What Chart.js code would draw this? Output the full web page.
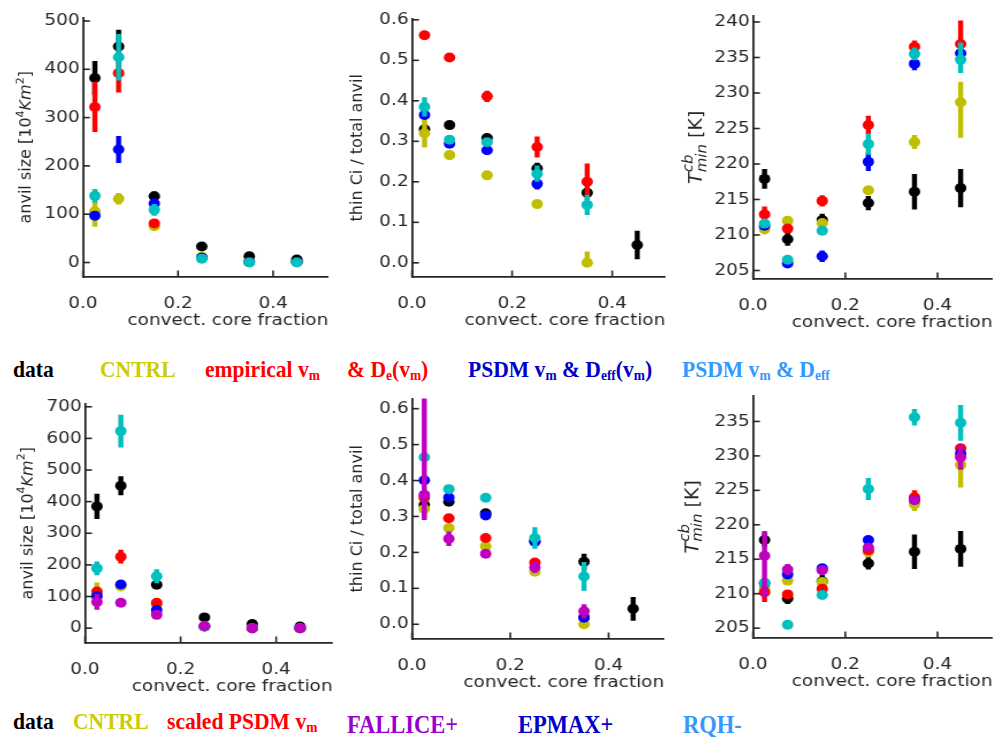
<!DOCTYPE html>
<html>
<head>
<meta charset="utf-8">
<script src="https://cdn.jsdelivr.net/npm/chart.js@4.4.1/dist/chart.umd.min.js"></script>
<style>
  body { margin: 0; background: #fff; width: 1003px; height: 737px; overflow: hidden; position: relative; }
  .panel { position: absolute; transform-origin: 0 0; }
  .leg { position: absolute; font-family: "Liberation Serif", "Times New Roman", serif; font-weight: bold; white-space: nowrap; line-height: 1; transform: scaleX(0.9); transform-origin: 0 0; }
  .leg sub { font-size: 0.62em; vertical-align: -0.2em; }
</style>
</head>
<body>
<div class="leg" style="left:13px;top:357px;font-size:24px;color:#000">data</div>
<div class="leg" style="left:100px;top:357px;font-size:24px;color:#cccc00">CNTRL</div>
<div class="leg" style="left:205px;top:357px;font-size:24px;color:#ff0000">empirical v<sub>m</sub></div>
<div class="leg" style="left:347px;top:357px;font-size:24px;color:#ff0000">&amp; D<sub>e</sub>(v<sub>m</sub>)</div>
<div class="leg" style="left:468px;top:357px;font-size:24px;color:#0000c8">PSDM v<sub>m</sub> &amp; D<sub>eff</sub>(v<sub>m</sub>)</div>
<div class="leg" style="left:682px;top:357px;font-size:24px;color:#3399ff">PSDM v<sub>m</sub> &amp; D<sub>eff</sub></div>

<div class="leg" style="left:13px;top:709px;font-size:24px;color:#000">data</div>
<div class="leg" style="left:73px;top:709px;font-size:24px;color:#cccc00">CNTRL</div>
<div class="leg" style="left:167px;top:709px;font-size:24px;color:#ff0000">scaled PSDM v<sub>m</sub></div>
<div class="leg" style="left:347px;top:712px;font-size:25px;color:#9900cc">FALLICE+</div>
<div class="leg" style="left:518px;top:712px;font-size:25px;color:#0000c8">EPMAX+</div>
<div class="leg" style="left:683px;top:712px;font-size:25px;color:#3399ff">RQH-</div>

<script>
// horizontal stretch of the original figure
const S = 1.15;

const coreFrac = [0.025, 0.075, 0.15, 0.25, 0.35, 0.45];
const xTicks = [0, 0.2, 0.4];
const anvilTicksTop = [0, 100, 200, 300, 400, 500];
const anvilTicksBot = [0, 100, 200, 300, 400, 500, 600, 700];
const thinTicks = [0, 0.1, 0.2, 0.3, 0.4, 0.5, 0.6];
const tempTicksTop = [205, 210, 215, 220, 225, 230, 235, 240];
const tempTicksBot = [205, 210, 215, 220, 225, 230, 235];

const colData = '#000000', colCntrl = '#bfbf00', colRed = '#ff0000',
      colBlue = '#0000ff', colCyan = '#00bfbf', colMag = '#bf00bf';

// errors: number = symmetric, [minus, plus] = asymmetric

// top row: anvil size
const anvilTop_data  = [382, 447, 137, 33, 13, 6];
const anvilTop_dataE = [35, 35, 10, 4, 3, 2];
const anvilTop_cntrl  = [106, 132, 75, 12, 1, 1];
const anvilTop_cntrlE = [32, 12, 4, 2, 0, 0];
const anvilTop_emp  = [322, 392, 81, 10, 1, 1];
const anvilTop_empE = [52, 40, 8, 2, 0, 0];
const anvilTop_psdm  = [97, 234, 122, 10, 1, 1];
const anvilTop_psdmE = [5, 28, 10, 2, 0, 0];
const anvilTop_psdmc  = [138, 425, 109, 8, 0, 0];
const anvilTop_psdmcE = [14, 48, 12, 2, 0, 0];

// top row: thin Ci fraction
const thinTop_data  = [0.33, 0.34, 0.308, 0.233, 0.173, 0.044];
const thinTop_dataE = [0.008, 0.008, 0.01, 0.014, 0.01, 0.035];
const thinTop_cntrl  = [0.32, 0.266, 0.216, 0.145, 0.0, null];
const thinTop_cntrlE = [0.035, 0.005, 0.005, 0.005, [0, 0.028], 0];
const thinTop_emp  = [0.562, 0.507, 0.411, 0.286, 0.2, null];
const thinTop_empE = [0.008, 0.005, 0.014, 0.026, 0.045, 0];
const thinTop_psdm  = [0.365, 0.294, 0.278, 0.195, null, null];
const thinTop_psdmE = [0.005, 0.005, 0.005, 0.014, 0, 0];
const thinTop_psdmc  = [0.385, 0.304, 0.298, 0.22, 0.143, null];
const thinTop_psdmcE = [0.024, 0.008, 0.008, 0.02, 0.025, 0];

// top row: min cloud base temperature
const tempTop_data  = [217.9, 209.4, 212.1, 214.5, 216.1, 216.6];
const tempTop_dataE = [1.4, 0.9, 0.9, 1.0, 2.5, 2.7];
const tempTop_cntrl  = [210.8, 212.0, 211.7, 216.3, 223.1, 228.7];
const tempTop_cntrlE = [0.7, 0.4, 0.5, 0.5, 1.0, [5.0, 2.9]];
const tempTop_emp  = [212.9, 210.9, 214.8, 225.5, 236.5, 236.9];
const tempTop_empE = [1.1, 0.4, 0.8, 1.3, 0.9, [2.0, 3.3]];
const tempTop_psdm  = [211.3, 206.0, 207.0, 220.3, 234.1, 235.6];
const tempTop_psdmE = [0.4, 0.3, 0.8, 1.3, 0.9, 0.5];
const tempTop_psdmc  = [211.6, 206.5, 210.6, 222.8, 235.5, 234.7];
const tempTop_psdmcE = [0.4, 0.3, 0.4, 1.5, 0.9, [1.9, 2.4]];

// bottom row: anvil size
const anvilBot_data  = [385, 450, 137, 34, 13, 5];
const anvilBot_dataE = [40, 30, 10, 4, 3, 2];
const anvilBot_cntrl  = [109, 132, 75, 7, 0, 0];
const anvilBot_cntrlE = [35, 8, 4, 1, 0, 0];
const anvilBot_scaled  = [116, 226, 80, 5, 0, 0];
const anvilBot_scaledE = [8, 22, 5, 1, 0, 0];
const anvilBot_epmax  = [101, 138, 57, 5, 0, 0];
const anvilBot_epmaxE = [6, 6, 4, 1, 0, 0];
const anvilBot_rqh  = [189, 623, 164, 5, 0, 0];
const anvilBot_rqhE = [22, 52, 22, 1, 0, 0];
const anvilBot_fallice  = [83, 80, 42, 7, 0, 0];
const anvilBot_falliceE = [25, 5, 4, 1, 0, 0];

// bottom row: thin Ci fraction
const thinBot_data  = [0.332, 0.341, 0.309, 0.231, 0.174, 0.043];
const thinBot_dataE = [0.008, 0.008, 0.008, 0.012, 0.022, 0.033];
const thinBot_cntrl  = [0.321, 0.268, 0.217, 0.146, 0.0, null];
const thinBot_cntrlE = [0.02, 0.005, 0.005, 0.005, 0.005, 0];
const thinBot_scaled  = [0.352, 0.295, 0.24, 0.172, 0.02, null];
const thinBot_scaledE = [0.01, 0.005, 0.005, 0.01, 0.005, 0];
const thinBot_epmax  = [0.401, 0.353, 0.303, 0.23, 0.018, null];
const thinBot_epmaxE = [0.005, 0.01, 0.012, 0.01, 0.005, 0];
const thinBot_rqh  = [0.465, 0.376, 0.352, 0.24, 0.133, null];
const thinBot_rqhE = [0.005, 0.008, 0.008, 0.03, 0.04, 0];
const thinBot_fallice  = [0.36, 0.238, 0.196, 0.158, 0.036, null];
const thinBot_falliceE = [[0.07, 0.4], 0.02, 0.005, 0.015, 0.02, 0];

// bottom row: min cloud base temperature
const tempBot_data  = [217.8, 209.3, 211.8, 214.4, 216.1, 216.5];
const tempBot_dataE = [1.0, 0.8, 0.9, 0.9, 2.5, 2.6];
const tempBot_cntrl  = [210.7, 211.9, 211.7, 216.0, 223.0, 228.7];
const tempBot_cntrlE = [0.5, 0.4, 0.5, 0.5, 1.0, [3.3, 1.5]];
const tempBot_scaled  = [210.2, 209.9, 210.7, 216.3, 224.0, 231.1];
const tempBot_scaledE = [1.4, 0.4, 0.5, 0.5, 1.0, 0.6];
const tempBot_epmax  = [211.5, 212.8, 213.7, 217.8, 223.6, 230.3];
const tempBot_epmaxE = [0.5, 0.4, 0.4, 0.5, 0.5, 0.5];
const tempBot_rqh  = [211.6, 205.5, 209.8, 225.2, 235.6, 234.8];
const tempBot_rqhE = [0.5, 0.3, 0.4, 1.6, 1.2, 2.6];
const tempBot_fallice  = [215.5, 213.5, 213.4, 216.7, 223.6, 229.8];
const tempBot_falliceE = [[6.0, 3.6], 0.8, 0.4, 0.5, 0.5, 1.8];

Chart.defaults.font.family = '"DejaVu Sans", sans-serif';
Chart.defaults.color = '#262626';

const anvilTitle = [{ t: 'anvil size [10' }, { t: '4', size: 11, dy: -6 }, { t: 'Km', italic: true }, { t: '2', size: 11, dy: -6 }, { t: ']' }];
const thinTitle = [{ t: 'thin Ci / total anvil' }];
const tempTitle = [{ t: 'T', size: 19, italic: true }, { t: 'cb', size: 15, dy: -8, italic: true }, { t: 'min', size: 15, dy: 5, italic: true, stack: true }, { t: ' [K]', size: 19 }];

const errorBars = {
  id: 'errorBars',
  beforeDatasetDraw(chart, args) {
    const ds = chart.data.datasets[args.index];
    const xs = chart.scales.x, ys = chart.scales.y, a = chart.chartArea;
    const ctx = chart.ctx;
    ctx.save();
    ctx.beginPath();
    ctx.rect(a.left, a.top, a.right - a.left, a.bottom - a.top);
    ctx.clip();
    ctx.strokeStyle = ds.backgroundColor;
    ctx.lineWidth = 4.4;
    ds.data.forEach(p => {
      const lo = Array.isArray(p.err) ? p.err[0] : p.err;
      const hi = Array.isArray(p.err) ? p.err[1] : p.err;
      if (!lo && !hi) return;
      const x = xs.getPixelForValue(p.x);
      ctx.beginPath();
      ctx.moveTo(x, ys.getPixelForValue(p.y - lo));
      ctx.lineTo(x, ys.getPixelForValue(p.y + hi));
      ctx.stroke();
    });
    ctx.restore();
  }
};

const axisDeco = {
  id: 'axisDeco',
  afterDraw(chart, args, opts) {
    const ctx = chart.ctx, a = chart.chartArea;
    const xs = chart.scales.x, ys = chart.scales.y;
    ctx.save();
    ctx.strokeStyle = '#262626';
    ctx.lineWidth = 1.6;
    xs.ticks.forEach(t => {
      const x = xs.getPixelForValue(t.value);
      ctx.beginPath(); ctx.moveTo(x, a.bottom); ctx.lineTo(x, a.bottom - 6.5); ctx.stroke();
    });
    ys.ticks.forEach(t => {
      const y = ys.getPixelForValue(t.value);
      ctx.beginPath(); ctx.moveTo(a.left, y); ctx.lineTo(a.left + 6, y); ctx.stroke();
    });
    // rotated y title with super/subscripts
    const segs = opts.title;
    const fontOf = s => (s.italic ? 'italic ' : '') + (s.size || 16) + 'px "DejaVu Sans"';
    let pos = 0, prevStart = 0;
    const placed = segs.map(s => {
      ctx.font = fontOf(s);
      const w = ctx.measureText(s.t).width;
      const x0 = s.stack ? prevStart : pos;
      prevStart = x0;
      pos = Math.max(x0 + w, pos);
      return { s, x0 };
    });
    const total = pos;
    ctx.translate(opts.titleX, (a.top + a.bottom) / 2);
    ctx.scale(1 / S, 1);
    ctx.rotate(-Math.PI / 2);
    ctx.fillStyle = '#262626';
    ctx.textBaseline = 'middle';
    placed.forEach(p => {
      ctx.font = fontOf(p.s);
      ctx.fillText(p.s.t, p.x0 - total / 2, p.s.dy || 0);
    });
    ctx.restore();
  }
};

function series(vals, errs, color) {
  return { vals, errs, color };
}

const panels = [
  { ax: 83, at: 15, ar: 328, ab: 277, yMin: -30, yMax: 507, xMax: 0.516, yTicks: anvilTicksTop, dec: 0, title: anvilTitle, titleX: 27,
    series: [series(anvilTop_data, anvilTop_dataE, colData), series(anvilTop_cntrl, anvilTop_cntrlE, colCntrl),
             series(anvilTop_emp, anvilTop_empE, colRed), series(anvilTop_psdm, anvilTop_psdmE, colBlue),
             series(anvilTop_psdmc, anvilTop_psdmcE, colCyan)] },
  { ax: 412, at: 16, ar: 665, ab: 277, yMin: -0.035, yMax: 0.603, xMax: 0.506, yTicks: thinTicks, dec: 1, title: thinTitle, titleX: 358,
    series: [series(thinTop_data, thinTop_dataE, colData), series(thinTop_cntrl, thinTop_cntrlE, colCntrl),
             series(thinTop_emp, thinTop_empE, colRed), series(thinTop_psdm, thinTop_psdmE, colBlue),
             series(thinTop_psdmc, thinTop_psdmcE, colCyan)] },
  { ax: 753, at: 13, ar: 993, ab: 279, yMin: 203.8, yMax: 240.9, xMax: 0.519, yTicks: tempTicksTop, dec: 0, title: tempTitle, titleX: 697,
    series: [series(tempTop_data, tempTop_dataE, colData), series(tempTop_cntrl, tempTop_cntrlE, colCntrl),
             series(tempTop_emp, tempTop_empE, colRed), series(tempTop_psdm, tempTop_psdmE, colBlue),
             series(tempTop_psdmc, tempTop_psdmcE, colCyan)] },
  { ax: 85, at: 401, ar: 333, ab: 643, yMin: -47, yMax: 710, xMax: 0.518, yTicks: anvilTicksBot, dec: 0, title: anvilTitle, titleX: 28,
    series: [series(anvilBot_data, anvilBot_dataE, colData), series(anvilBot_cntrl, anvilBot_cntrlE, colCntrl),
             series(anvilBot_scaled, anvilBot_scaledE, colRed), series(anvilBot_epmax, anvilBot_epmaxE, colBlue),
             series(anvilBot_rqh, anvilBot_rqhE, colCyan), series(anvilBot_fallice, anvilBot_falliceE, colMag)] },
  { ax: 412, at: 396, ar: 664, ab: 639, yMin: -0.041, yMax: 0.628, xMax: 0.513, yTicks: thinTicks, dec: 1, title: thinTitle, titleX: 358,
    series: [series(thinBot_data, thinBot_dataE, colData), series(thinBot_cntrl, thinBot_cntrlE, colCntrl),
             series(thinBot_scaled, thinBot_scaledE, colRed), series(thinBot_epmax, thinBot_epmaxE, colBlue),
             series(thinBot_rqh, thinBot_rqhE, colCyan), series(thinBot_fallice, thinBot_falliceE, colMag)] },
  { ax: 753, at: 393, ar: 993, ab: 638, yMin: 203.57, yMax: 238.75, xMax: 0.519, yTicks: tempTicksBot, dec: 0, title: tempTitle, titleX: 693,
    series: [series(tempBot_data, tempBot_dataE, colData), series(tempBot_cntrl, tempBot_cntrlE, colCntrl),
             series(tempBot_scaled, tempBot_scaledE, colRed), series(tempBot_epmax, tempBot_epmaxE, colBlue),
             series(tempBot_rqh, tempBot_rqhE, colCyan), series(tempBot_fallice, tempBot_falliceE, colMag)] }
];

const LEFT = 80, TOP = 10, RIGHT = 6, BOTTOM = 60;

panels.forEach(p => {
  const wrap = document.createElement('div');
  wrap.className = 'panel';
  const left = p.ax - LEFT;
  wrap.style.left = left + 'px';
  wrap.style.top = (p.at - TOP) + 'px';
  wrap.style.transform = 'scaleX(' + S + ')';
  const cv = document.createElement('canvas');
  cv.width = Math.round((p.ar - p.ax + LEFT + RIGHT) / S);
  cv.height = Math.round(p.ab - p.at + TOP + BOTTOM);
  wrap.appendChild(cv);
  document.body.appendChild(wrap);

  const datasets = p.series.map((s, i) => ({
    data: coreFrac.map((x, k) => s.vals[k] == null ? null : { x: x, y: s.vals[k], err: s.errs[k] }).filter(Boolean),
    backgroundColor: s.color,
    pointRadius: 5,
    pointHoverRadius: 5,
    pointBorderWidth: 0,
    order: -i
  }));

  new Chart(cv, {
    type: 'scatter',
    data: { datasets },
    options: {
      responsive: false,
      animation: false,
      events: [],
      layout: { padding: { left: 0, top: TOP, right: RIGHT / S, bottom: 0 } },
      plugins: { legend: { display: false }, tooltip: { enabled: false }, axisDeco: { title: p.title, titleX: (p.titleX - left) / S } },
      scales: {
        x: {
          type: 'linear', min: 0, max: p.xMax,
          afterBuildTicks: ax => { ax.ticks = xTicks.map(v => ({ value: v })); },
          afterFit: ax => { ax.height = BOTTOM; },
          grid: { display: false, drawTicks: false },
          border: { display: true, color: '#262626', width: 1.8 },
          ticks: { font: { size: 16 }, padding: 17, callback: v => v.toFixed(1) },
          title: { display: true, text: 'convect. core fraction', align: 'end', font: { size: 16 }, padding: { top: 0, bottom: 7 } }
        },
        y: {
          type: 'linear', min: p.yMin, max: p.yMax,
          afterBuildTicks: ax => { ax.ticks = p.yTicks.map(v => ({ value: v })); },
          afterFit: ax => { ax.width = LEFT / S; },
          grid: { display: false, drawTicks: false },
          border: { display: true, color: '#262626', width: 1.8 },
          ticks: { font: { size: 16 }, padding: 3, callback: v => v.toFixed(p.dec) }
        }
      }
    },
    plugins: [errorBars, axisDeco]
  });
});
</script>
</body>
</html>
